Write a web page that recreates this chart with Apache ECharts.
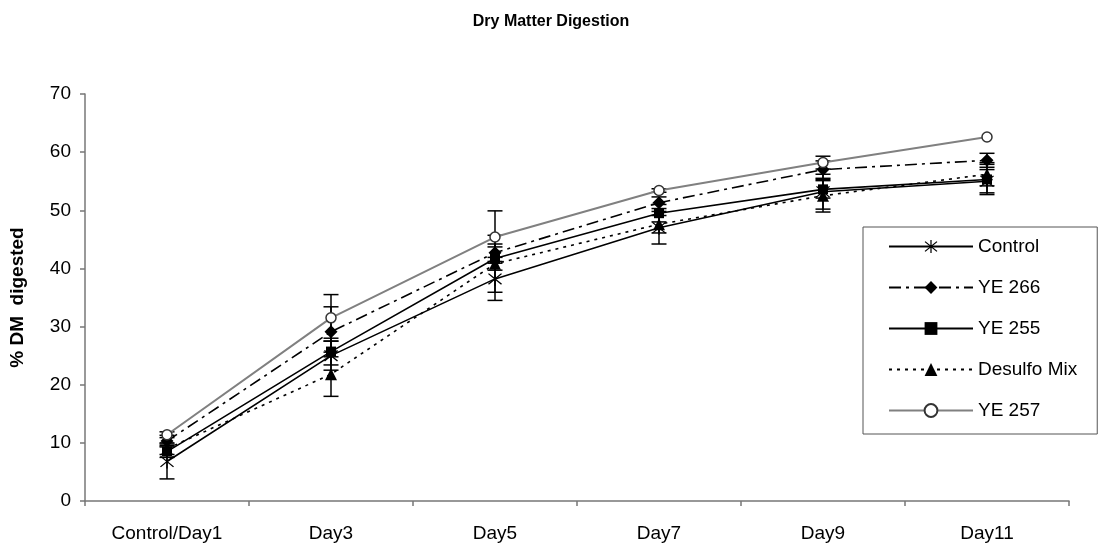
<!DOCTYPE html>
<html>
<head>
<meta charset="utf-8">
<script src="https://cdn.jsdelivr.net/npm/echarts@6/dist/echarts.min.js"></script>
<style>
html,body{margin:0;padding:0;background:#fff;}
#chart{width:1102px;height:546px;}
</style>
</head>
<body>
<div id="chart"></div>
<script>
const categories = ['Control/Day1', 'Day3', 'Day5', 'Day7', 'Day9', 'Day11'];
const yTicks = [0, 10, 20, 30, 40, 50, 60, 70];

const seriesNames = ['Control', 'YE 266', 'YE 255', 'Desulfo Mix', 'YE 257'];
const controlVals = [6.8, 25.0, 38.2, 47.0, 53.2, 55.0];
const ye266Vals   = [10.3, 29.1, 42.7, 51.3, 57.0, 58.6];
const ye255Vals   = [8.5, 25.7, 41.7, 49.5, 53.6, 55.3];
const desulfoVals = [9.0, 21.8, 40.8, 47.6, 52.5, 56.2];
const ye257Vals   = [11.4, 31.5, 45.4, 53.4, 58.2, 62.6];

const controlErr = [3.0, 2.5, 3.7, 2.8, 3.0, 2.0];
const ye266Err   = [1.0, 4.3, 1.5, 1.0, 1.5, 1.2];
const ye255Err   = [1.0, 2.3, 2.0, 1.5, 1.5, 2.6];
const desulfoErr = [1.0, 3.8, 4.9, 1.5, 2.8, 2.0];
const ye257Err   = [0.5, 4.0, 4.5, 0.3, 1.1, 0.0];

const FONT = "'Liberation Sans', Arial, sans-serif";
const asterisk = 'path://M9.2,0L10.8,0L10.8,20L9.2,20Z M1.8,2.9L2.9,1.8L18.2,17.1L17.1,18.2Z M17.1,1.8L18.2,2.9L2.9,18.2L1.8,17.1Z';

const lineDefs = [
  {name: seriesNames[0], data: controlVals, err: controlErr, symbol: asterisk, size: 14,
   line: {color: '#000', width: 1.6, type: 'solid'}, item: {color: '#000'}},
  {name: seriesNames[1], data: ye266Vals, err: ye266Err, symbol: 'diamond', size: 13,
   line: {color: '#000', width: 1.6, type: [12, 5, 3, 5]}, item: {color: '#000'}},
  {name: seriesNames[2], data: ye255Vals, err: ye255Err, symbol: 'rect', size: 10,
   line: {color: '#000', width: 1.6, type: 'solid'}, item: {color: '#000'}},
  {name: seriesNames[3], data: desulfoVals, err: desulfoErr, symbol: 'triangle', size: 12,
   line: {color: '#000', width: 1.6, type: [3, 5]}, item: {color: '#000'}},
  {name: seriesNames[4], data: ye257Vals, err: ye257Err, symbol: 'circle', size: 10,
   line: {color: '#808080', width: 2, type: 'solid'}, item: {color: '#fff', borderColor: '#333', borderWidth: 1.5}}
];

function errRender(params, api) {
  const x = api.value(0), v = api.value(1), e = api.value(2);
  if (!e) return {type: 'group', children: []};
  const top = api.coord([x, v + e]);
  const bot = api.coord([x, v - e]);
  const hw = 7.5;
  const st = {stroke: '#000', lineWidth: 1.5};
  return {type: 'group', children: [
    {type: 'line', shape: {x1: top[0], y1: top[1], x2: bot[0], y2: bot[1]}, style: st},
    {type: 'line', shape: {x1: top[0] - hw, y1: top[1], x2: top[0] + hw, y2: top[1]}, style: st},
    {type: 'line', shape: {x1: bot[0] - hw, y1: bot[1], x2: bot[0] + hw, y2: bot[1]}, style: st}
  ]};
}

const series = [];
lineDefs.forEach(d => {
  series.push({
    type: 'custom', name: 'err ' + d.name, renderItem: errRender, z: 1,
    data: d.data.map((v, i) => [i, v, d.err[i]]), silent: true
  });
});
lineDefs.forEach((d, k) => {
  series.push({
    type: 'line', name: d.name, data: d.data, symbol: d.symbol, symbolSize: d.size,
    showAllSymbol: true, lineStyle: d.line, itemStyle: d.item, z: 3 + k, animation: false
  });
});

const chart = echarts.init(document.getElementById('chart'), null, {renderer: 'canvas'});
chart.setOption({
  animation: false,
  backgroundColor: '#fff',
  title: {
    text: 'Dry Matter Digestion', left: 'center', top: 9,
    textStyle: {fontFamily: FONT, fontSize: 16, fontWeight: 'bold', color: '#000'}
  },
  grid: {left: 85, right: 33, top: 94, bottom: 45},
  legend: {
    data: seriesNames, orient: 'vertical', left: 863, top: 227,
    padding: [10, 20, 14, 25], itemGap: 22, itemWidth: 84, itemHeight: 16,
    backgroundColor: '#fff', borderColor: '#555', borderWidth: 1, borderRadius: 0,
    textStyle: {fontFamily: FONT, fontSize: 19, color: '#000', lineHeight: 18},
    selectedMode: false
  },
  xAxis: {
    type: 'category', data: categories, boundaryGap: true,
    axisLine: {lineStyle: {color: '#777', width: 1.5}},
    axisTick: {show: true, length: 5, lineStyle: {color: '#777', width: 1.5}},
    axisLabel: {fontFamily: FONT, fontSize: 19, color: '#000', margin: 23},
    splitLine: {show: false}
  },
  yAxis: {
    type: 'value', min: yTicks[0], max: yTicks[yTicks.length - 1], interval: 10,
    name: '% DM  digested', nameLocation: 'middle', nameGap: 58,
    nameTextStyle: {fontFamily: FONT, fontSize: 19, fontWeight: 'bold', color: '#000'},
    axisLine: {show: true, lineStyle: {color: '#777', width: 1.5}},
    axisTick: {show: true, length: 5, lineStyle: {color: '#777', width: 1.5}},
    axisLabel: {fontFamily: FONT, fontSize: 19, color: '#000', margin: 14},
    splitLine: {show: false}
  },
  series: series
});
</script>
</body>
</html>
